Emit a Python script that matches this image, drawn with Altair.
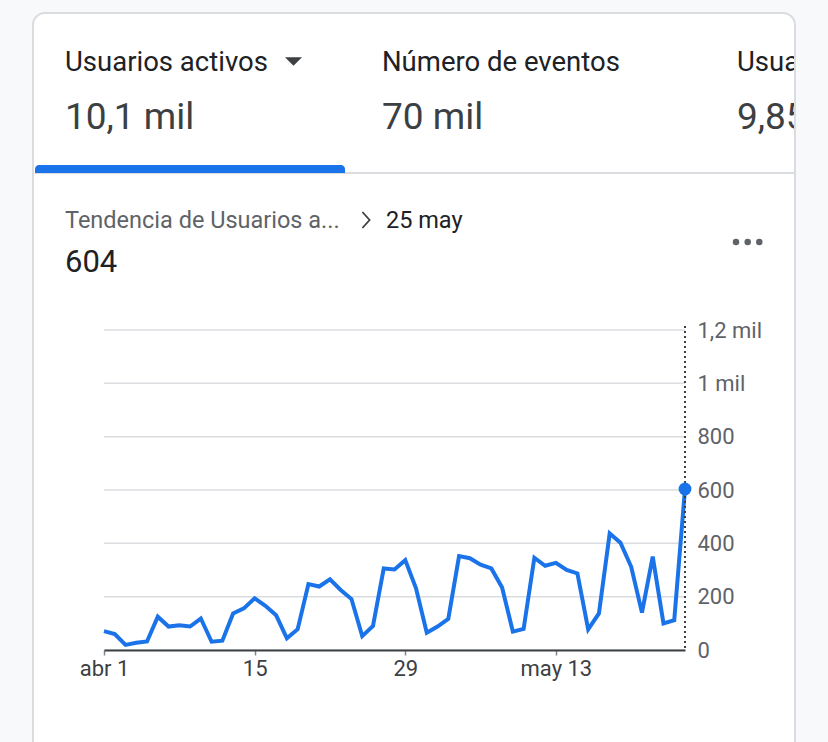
import altair as alt
import pandas as pd

# ---------------- data ----------------
inicio = "2025-04-01"
usuarios = [71, 60, 19, 27, 32, 125, 88, 93, 88, 118,
            31, 35, 137, 156, 194, 166, 130, 44, 78, 247,
            238, 265, 225, 191, 52, 90, 306, 302, 337, 231,
            65, 88, 117, 352, 344, 320, 306, 234, 69, 79,
            346, 316, 327, 300, 287, 77, 137, 437, 402, 312,
            140, 350, 100, 112, 604]
fechas = pd.date_range(inicio, periods=len(usuarios), freq="D").strftime("%Y-%m-%d").tolist()

tick_fechas = ["2025-04-01", "2025-04-15", "2025-04-29", "2025-05-13"]
tick_etiquetas = ["abr 1", "15", "29", "may 13"]
y_ticks = [0, 200, 400, 600, 800, 1000, 1200]

metricas = ["Usuarios activos", "Número de eventos", "Usuarios nuevos"]
totales = ["10,1 mil", "70 mil", "9,85 mil"]
subtitulo = "Tendencia de Usuarios a..."
fecha_sel = "25 may"
valor_sel = "604"

# ---------------- layout ----------------
W, H = 581, 320
PL, PT = 104, 330
PR = 828 - PL - W
PB = 742 - PT - H
FONT = "Roboto"
BLUE = "#1a73e8"


def X(px):
    return px - PL


def Y(py):
    return py - PT


one = alt.Data(values=[{"k": 0}])
df = pd.DataFrame({"fecha": fechas, "usuarios": usuarios})
ultimo = pd.DataFrame({"fecha": [fechas[-1]], "usuarios": [usuarios[-1]]})

xscale = alt.Scale(type="utc", nice=False)
yscale = alt.Scale(domain=[y_ticks[0], y_ticks[-1]], nice=False)

label_x = " : ".join(
    f"utcFormat(datum.value, '%Y-%m-%d') == '{f}' ? '{e}'" for f, e in zip(tick_fechas, tick_etiquetas)
) + " : ''"
x_values = []
for f in tick_fechas:
    yy, mm, dd = map(int, f.split("-"))
    x_values.append(alt.DateTime(year=yy, month=mm, date=dd, utc=True))

label_y = ("datum.value >= 1000 ? replace(format(datum.value / 1000, '.2~f'), '.', ',') + ' mil'"
           " : format(datum.value, 'd')")

xaxis = alt.Axis(values=x_values, labelExpr=label_x, grid=False,
                 domainColor="#3c4043", domainWidth=2, tickColor="#80868b",
                 tickSize=5, tickWidth=1.5, labelFontSize=22, labelColor="#3c4043",
                 labelFont=FONT, labelPadding=3, labelAlign="center", zindex=1,
                 labelOverlap=False)
yaxis = alt.Axis(orient="right", values=y_ticks, labelExpr=label_y, grid=False,
                 domain=False, ticks=False, labelPadding=12, labelFontSize=22,
                 labelColor="#5f6368", labelFont=FONT, zindex=1, labelOverlap=False)


def rect(x1, x2, y1, y2, **kw):
    return alt.Chart(one).mark_rect(**kw).encode(
        x=alt.value(X(x1)), x2=alt.value(X(x2)), y=alt.value(Y(y1)), y2=alt.value(Y(y2)))


def texto(s, px, py, size, color, weight=400, align="left"):
    return alt.Chart(one).mark_text(
        text=s, align=align, baseline="alphabetic", fontSize=size, color=color,
        font=FONT, fontWeight=weight).encode(x=alt.value(X(px)), y=alt.value(Y(py)))


def simbolo(shape, px, py, size, **kw):
    return alt.Chart(one).mark_point(shape=shape, size=size, opacity=1, **kw).encode(
        x=alt.value(X(px)), y=alt.value(Y(py)))


capas = []
# card
capas.append(rect(33, 795, 13, 800, fill="white", stroke="#dadce0", strokeWidth=2, cornerRadius=12))
# tab header texts
xs = [65, 382, 737]
for i in range(3):
    capas.append(texto(metricas[i], xs[i], 71, 27.5, "#202124"))
    capas.append(texto(totales[i], xs[i], 129, 37, "#3c4043"))
capas.append(simbolo("M-1,-0.5L1,-0.5L0,0.5Z", 293.5, 61.5, 289, filled=True, fill="#3c4043", strokeWidth=0))
# clip right side
capas.append(rect(795, 840, 26, 760, fill="#f8f9fa"))
capas.append(rect(794, 796, 26, 760, fill="#dadce0"))
# tab divider and indicator
capas.append(rect(35, 795, 172, 174, fill="#dadce0"))
capas.append(rect(35, 345, 165, 173, fill=BLUE, cornerRadiusTopLeft=6, cornerRadiusTopRight=6))
# subheader
capas.append(texto(subtitulo, 65, 228, 23.5, "#5f6368"))
capas.append(simbolo("M-0.45,-1L0.45,0L-0.45,1", 366, 220, 256, filled=False, stroke="#3c4043", strokeWidth=1.8))
capas.append(texto(fecha_sel, 386, 228, 23.5, "#202124"))
capas.append(texto(valor_sel, 65, 272, 31, "#202124"))
for cx in [736, 747.7, 759.3]:
    capas.append(alt.Chart(one).mark_circle(size=42, color="#5f6368", opacity=1).encode(
        x=alt.value(X(cx)), y=alt.value(Y(242))))

# gridlines
grid = alt.Chart(alt.Data(values=[{"v": v} for v in y_ticks])).mark_rule(
    color="#dadce0", strokeWidth=1.5).encode(
    y=alt.Y("v:Q", scale=yscale, axis=yaxis, title=None), x=alt.value(0), x2=alt.value(W))
capas.append(grid)

linea = alt.Chart(df).mark_line(color=BLUE, strokeWidth=4).encode(
    x=alt.X("fecha:T", scale=xscale, title=None, axis=xaxis),
    y=alt.Y("usuarios:Q", scale=yscale, title=None, axis=yaxis),
)
capas.append(linea)

regla = alt.Chart(ultimo).mark_rule(color="#3c4043", strokeDash=[2, 3], strokeWidth=2).encode(
    x=alt.X("fecha:T", scale=xscale, title=None, axis=xaxis), y=alt.value(-4), y2=alt.value(H))
capas.append(regla)

punto = alt.Chart(ultimo).mark_circle(size=165, color=BLUE, opacity=1).encode(
    x=alt.X("fecha:T", scale=xscale, title=None, axis=xaxis),
    y=alt.Y("usuarios:Q", scale=yscale, title=None, axis=yaxis))
capas.append(punto)

chart = alt.layer(*capas).properties(
    width=W, height=H,
    padding={"left": PL, "top": PT, "right": PR, "bottom": PB},
    autosize=alt.AutoSizeParams(type="none"),
    background="#f8f9fa",
).configure_view(stroke=None)

chart.save("out.html", embed_options={"renderer": "svg", "actions": False})
